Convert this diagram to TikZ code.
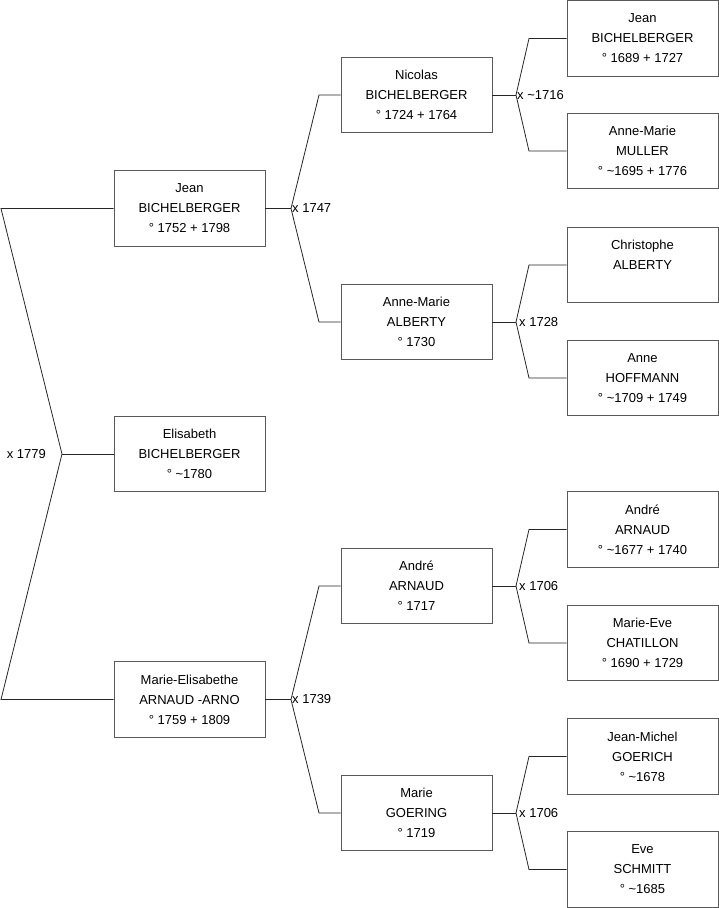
\documentclass[tikz,border=0pt]{standalone}
\usepackage{fontspec}
\setmainfont{Liberation Sans}
\begin{document}
\begin{tikzpicture}[x=1pt,y=-1pt,
  person/.style={draw=black!65,line width=0.9pt,fill=white,minimum width=151pt,minimum height=75.5pt,
    inner sep=0pt,align=center,font=\fontsize{13}{20}\selectfont},
  lbl/.style={inner sep=1pt,font=\fontsize{13}{16}\selectfont},
  link/.style={draw=black!85,line width=0.8pt}]
\useasboundingbox (0,0) rectangle (719,908);
% generation 1
\node[person] (p1) at (189.5,208.5) {Jean\\BICHELBERGER\\° 1752 + 1798};
\node[person] (p0) at (189.5,454) {Elisabeth\\BICHELBERGER\\° \textasciitilde1780};
\node[person] (p2) at (189.5,699.5) {Marie-Elisabethe\\ARNAUD -ARNO\\° 1759 + 1809};
% generation 2
\node[person] (p11) at (416.5,95) {Nicolas\\BICHELBERGER\\° 1724 + 1764};
\node[person] (p12) at (416.5,322) {Anne-Marie\\ALBERTY\\° 1730};
\node[person] (p21) at (416.5,586) {André\\ARNAUD\\° 1717};
\node[person] (p22) at (416.5,813) {Marie\\GOERING\\° 1719};
% generation 3
\node[person] (p111) at (642.5,38.5) {Jean\\BICHELBERGER\\° 1689 + 1727};
\node[person] (p112) at (642.5,151) {Anne-Marie\\MULLER\\° \textasciitilde1695 + 1776};
\node[person] (p121) at (642.5,265) {Christophe\\ALBERTY\\\mbox{}};
\node[person] (p122) at (642.5,378) {Anne\\HOFFMANN\\° \textasciitilde1709 + 1749};
\node[person] (p211) at (642.5,529.5) {André\\ARNAUD\\° \textasciitilde1677 + 1740};
\node[person] (p212) at (642.5,643) {Marie-Eve\\CHATILLON\\° 1690 + 1729};
\node[person] (p221) at (642.5,756.5) {Jean-Michel\\GOERICH\\° \textasciitilde1678};
\node[person] (p222) at (642.5,869.5) {Eve\\SCHMITT\\° \textasciitilde1685};
% junction coordinates
\coordinate (v0) at (62,454);
\coordinate (b01) at (1,208.5);
\coordinate (b02) at (1,699.5);
\coordinate (v1) at (291,208.5);
\coordinate (b11) at (319,95);
\coordinate (b12) at (319,322);
\coordinate (v2) at (291,699.5);
\coordinate (b21) at (319,586);
\coordinate (b22) at (319,813);
\coordinate (v11) at (516,95);
\coordinate (b111) at (529,38.5);
\coordinate (b112) at (529,151);
\coordinate (v12) at (516,322);
\coordinate (b121) at (529,265);
\coordinate (b122) at (529,378);
\coordinate (v21) at (516,586);
\coordinate (b211) at (529,529.5);
\coordinate (b212) at (529,643);
\coordinate (v22) at (516,813);
\coordinate (b221) at (529,756.5);
\coordinate (b222) at (529,869.5);
% connectors
\draw[link] (p1.west) -- (b01) -- (v0) -- (b02) -- (p2.west);
\draw[link] (v0) -- (p0.west);
\draw[link] (p1.east) -- (v1);
\draw[link] (p11.west) -- (b11) -- (v1) -- (b12) -- (p12.west);
\draw[link] (p2.east) -- (v2);
\draw[link] (p21.west) -- (b21) -- (v2) -- (b22) -- (p22.west);
\draw[link] (p11.east) -- (v11);
\draw[link] (p111.west) -- (b111) -- (v11) -- (b112) -- (p112.west);
\draw[link] (p12.east) -- (v12);
\draw[link] (p121.west) -- (b121) -- (v12) -- (b122) -- (p122.west);
\draw[link] (p21.east) -- (v21);
\draw[link] (p211.west) -- (b211) -- (v21) -- (b212) -- (p212.west);
\draw[link] (p22.east) -- (v22);
\draw[link] (p221.west) -- (b221) -- (v22) -- (b222) -- (p222.west);
% marriage labels
\node[lbl,anchor=east] (m0) at (47,454) {x 1779};
\node[lbl,anchor=west] (m1) at (v1) {x 1747};
\node[lbl,anchor=west] (m2) at (v2) {x 1739};
\node[lbl,anchor=west] (m11) at (v11) {x \textasciitilde1716};
\node[lbl,anchor=west] (m12) at ([xshift=2pt]v12) {x 1728};
\node[lbl,anchor=west] (m21) at ([xshift=2pt]v21) {x 1706};
\node[lbl,anchor=west] (m22) at ([xshift=2pt]v22) {x 1706};
\end{tikzpicture}
\end{document}
